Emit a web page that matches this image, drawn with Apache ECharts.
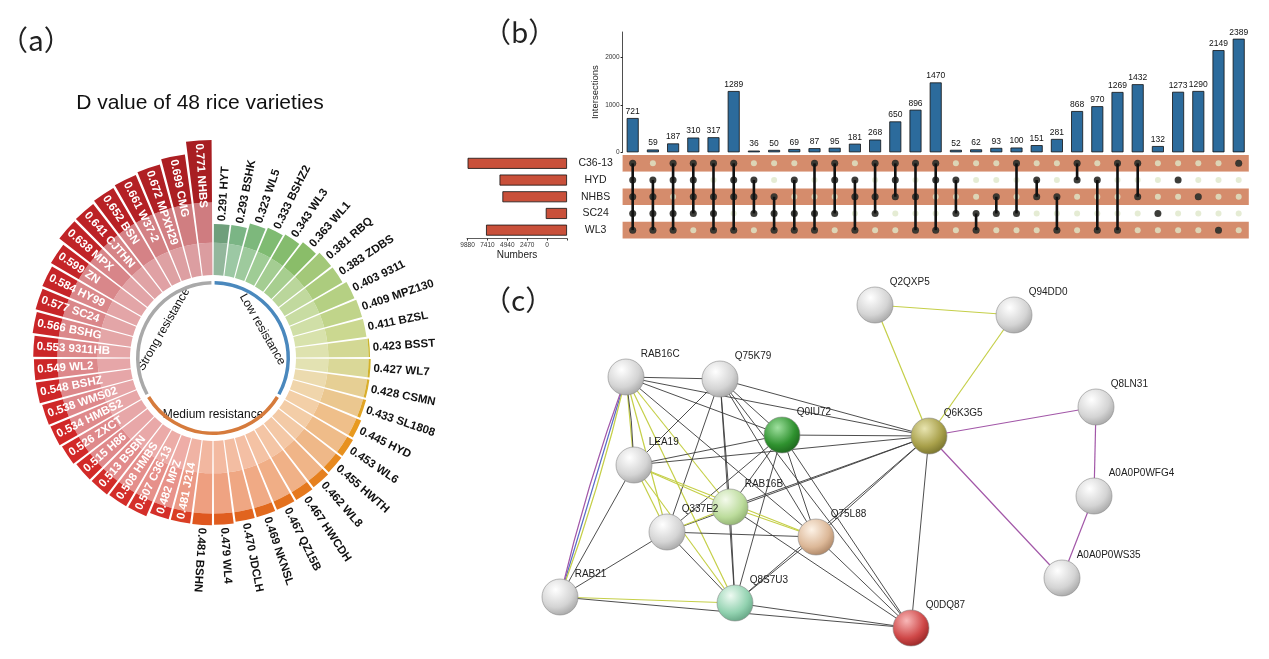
<!DOCTYPE html>
<html><head><meta charset="utf-8">
<script src="https://cdn.jsdelivr.net/npm/echarts@6/dist/echarts.min.js"></script>
<style>html,body{margin:0;padding:0;background:#fff}#c{width:1269px;height:659px}</style>
</head><body><div id="c"></div>
<script>
// ---------- (a) D values ----------
const varieties = ['HYT','BSHK','WL5','BSHZ2','WL3','WL1','RBQ','ZDBS','9311','MPZ130','BZSL','BSST','WL7','CSMN','SL1808','HYD','WL6','HWTH','WL8','HWCDH','QZ15B','NKNSL','JDCLH','WL4','BSHN','J214','MPZ','C36-13','HMBS','BSBN','H86','ZXCT','HMBS2','WMS02','BSHZ','WL2','9311HB','BSHG','SC24','HY99','ZN','MPX','CJTHN','BSN','W37-2','MPXH29','CMG','NHBS'];
const dValues = [0.291,0.293,0.323,0.333,0.343,0.363,0.381,0.383,0.403,0.409,0.411,0.423,0.427,0.428,0.433,0.445,0.453,0.455,0.462,0.467,0.467,0.469,0.470,0.479,0.481,0.481,0.482,0.507,0.508,0.513,0.515,0.526,0.534,0.538,0.548,0.549,0.553,0.566,0.577,0.584,0.599,0.638,0.641,0.652,0.661,0.672,0.699,0.771];
const groupNames = ['Low resistance','Medium resistance','Strong resistance'];
const firstInsideLabel = 25;

// ---------- (b) UpSet ----------
const setNames = ['C36-13','HYD','NHBS','SC24','WL3'];
const setSizes = [12348, 8381, 8024, 2638, 10057];
const setTickLabels = ['9880','7410','4940','2470','0'];
const intersectionTicks = [0, 1000, 2000];
const intersectionCounts = [721,59,187,310,317,1289,36,50,69,87,95,181,268,650,896,1470,52,62,93,100,151,281,868,970,1269,1432,132,1273,1290,2149,2389];
const intersectionSets = [
 ['C36-13','HYD','NHBS','SC24','WL3'],
 ['HYD','NHBS','SC24','WL3'],
 ['C36-13','HYD','SC24','WL3'],
 ['C36-13','HYD','NHBS','SC24'],
 ['C36-13','NHBS','SC24','WL3'],
 ['C36-13','HYD','NHBS','WL3'],
 ['HYD','NHBS','SC24'],
 ['NHBS','SC24','WL3'],
 ['HYD','SC24','WL3'],
 ['C36-13','SC24','WL3'],
 ['C36-13','HYD','SC24'],
 ['HYD','NHBS','WL3'],
 ['C36-13','NHBS','SC24'],
 ['C36-13','HYD','NHBS'],
 ['C36-13','NHBS','WL3'],
 ['C36-13','HYD','WL3'],
 ['HYD','SC24'],
 ['SC24','WL3'],
 ['NHBS','SC24'],
 ['C36-13','SC24'],
 ['HYD','NHBS'],
 ['NHBS','WL3'],
 ['C36-13','HYD'],
 ['HYD','WL3'],
 ['C36-13','WL3'],
 ['C36-13','NHBS'],
 ['SC24'],
 ['HYD'],
 ['NHBS'],
 ['WL3'],
 ['C36-13']
];

// ---------- (c) network ----------
const nodeNames = ['Q2QXP5','Q94DD0','RAB16C','Q75K79','Q0IU72','Q6K3G5','Q8LN31','LEA19','RAB16B','Q337E2','Q75L88','A0A0P0WFG4','A0A0P0WS35','RAB21','Q8S7U3','Q0DQ87'];
const nodeX = [875,1014,626,720,782,929,1096,634,730,667,816,1094,1062,560,735,911];
const nodeY = [305,315,377,379,435,436,407,465,507,532,537,496,578,597,603,628];
const nodeTint = {Q0IU72:'green', Q6K3G5:'olive', RAB16B:'lightgreen', Q75L88:'tan', Q8S7U3:'mint', Q0DQ87:'red'};
const edgeList = [
 ['RAB16C','Q75K79','k'],['RAB16C','Q0IU72','k'],['RAB16C','Q6K3G5','k'],['RAB16C','Q75L88','k'],
 ['RAB16C','RAB16B','y'],['RAB16C','Q337E2','y'],['RAB16C','Q8S7U3','y'],['RAB16C','LEA19','y'],['RAB16C','LEA19','k'],
 ['RAB16C','RAB21','b'],['RAB16C','RAB21','y'],['RAB16C','RAB21','p'],
 ['Q75K79','LEA19','k'],['Q75K79','Q0IU72','k'],['Q75K79','Q6K3G5','k'],['Q75K79','RAB16B','k'],['Q75K79','Q337E2','k'],
 ['Q75K79','Q75L88','k'],['Q75K79','Q8S7U3','k'],['Q75K79','Q0DQ87','k'],
 ['Q0IU72','LEA19','k'],['Q0IU72','Q6K3G5','k'],['Q0IU72','RAB16B','k'],['Q0IU72','Q337E2','k'],['Q0IU72','Q75L88','k'],
 ['Q0IU72','Q8S7U3','k'],['Q0IU72','Q0DQ87','k'],
 ['Q6K3G5','LEA19','k'],['Q6K3G5','RAB16B','k'],['Q6K3G5','Q337E2','k'],['Q6K3G5','Q75L88','k'],['Q6K3G5','Q8S7U3','k'],
 ['Q6K3G5','Q0DQ87','k'],['Q6K3G5','Q2QXP5','y'],['Q6K3G5','Q94DD0','y'],['Q6K3G5','Q8LN31','p'],['Q6K3G5','A0A0P0WS35','p'],
 ['Q8LN31','A0A0P0WFG4','p'],['A0A0P0WFG4','A0A0P0WS35','p'],['Q2QXP5','Q94DD0','y'],
 ['LEA19','RAB16B','y'],['LEA19','Q337E2','y'],['LEA19','Q75L88','y'],['LEA19','Q8S7U3','y'],['LEA19','RAB21','k'],
 ['RAB16B','Q337E2','y'],['RAB16B','Q75L88','y'],['RAB16B','Q8S7U3','k'],['RAB16B','Q0DQ87','k'],
 ['Q337E2','Q75L88','k'],['Q337E2','Q8S7U3','k'],['Q337E2','RAB21','k'],
 ['Q75L88','Q8S7U3','k'],['Q75L88','Q0DQ87','k'],
 ['RAB21','Q8S7U3','y'],['RAB21','Q0DQ87','k'],['Q8S7U3','Q0DQ87','k']
];

// ---------- helpers ----------
function hexToRgb(h){h=h.replace('#','');return [0,2,4].map(k=>parseInt(h.substr(k,2),16));}
function rgbToHex(c){return '#'+c.map(v=>Math.round(v).toString(16).padStart(2,'0')).join('');}
function interp(stops,i){
  if(i<=stops[0][0]) return stops[0][1];
  for(let k=1;k<stops.length;k++){
    if(i<=stops[k][0]){const a=hexToRgb(stops[k-1][1]),b=hexToRgb(stops[k][1]);const t=(i-stops[k-1][0])/(stops[k][0]-stops[k-1][0]);return rgbToHex(a.map((v,j)=>v+(b[j]-v)*t));}
  }
  return stops[stops.length-1][1];
}
function mixWhite(c,t){return rgbToHex(hexToRgb(c).map(v=>v+(255-v)*t));}

const midStops=[[0,'#6f9f7b'],[1,'#7bb585'],[3,'#7fbb72'],[5,'#8abd69'],[6,'#a3c879'],[8,'#b5d083'],[10,'#cbd890'],[12,'#dad898'],[13,'#e6cf94'],[15,'#efbf8a'],[20,'#f0ae86'],[24,'#ee9f80'],[26,'#e8928a'],[30,'#e0898b'],[40,'#d9878a'],[47,'#cf7c80']];
const tipStops=[[11,'#c9b52c'],[13,'#d9ae2a'],[15,'#e89a20'],[18,'#e6801e'],[21,'#e26a1e'],[24,'#df571f'],[25,'#da3e24'],[26,'#d4302a'],[32,'#d12727'],[40,'#c42428'],[47,'#a81e22']];
const zoneCut=[0.185,0.415];

const seg1=dValues.map((v,i)=>({value:Math.min(v,zoneCut[0]),itemStyle:{color:mixWhite(interp(midStops,i),0.25)}}));
const seg2=dValues.map((v,i)=>({value:Math.max(0,Math.min(v,zoneCut[1])-zoneCut[0]),itemStyle:{color:interp(midStops,i)}}));
const seg3=dValues.map((v,i)=>({value:Math.max(0,v-zoneCut[1]),itemStyle:{color:interp(tipStops,i)}}));

const polarCenter=[213,358];

// UpSet derived
const memberRows=intersectionSets.map(s=>s.map(n=>setNames.indexOf(n)));
const allCells=[];for(let c=0;c<intersectionCounts.length;c++)for(let r=0;r<setNames.length;r++)allCells.push([c,r]);
const memberCells=[];memberRows.forEach((rows,c)=>rows.forEach(r=>memberCells.push([c,r])));
const lineData=memberRows.map((rows,c)=>[c,Math.min(...rows),Math.max(...rows)]);
const colCats=intersectionCounts.map((v,i)=>'I'+(i+1));

// network derived
const tintStops={
  white:['#ffffff','#d4d4d4','#9c9c9c'],
  green:['#9fe09f','#2f922f','#195a19'],
  olive:['#e8e4b0','#a8a04a','#6c6826'],
  lightgreen:['#f4faec','#bcdc9c','#86a866'],
  tan:['#fdf2e6','#dcb898','#a07858'],
  mint:['#eefaf2','#92d2b0','#5a9a7a'],
  red:['#f8b8b8','#cf4848','#8a1e1e']
};
const graphNodes=nodeNames.map((n,i)=>{const s=tintStops[nodeTint[n]||'white'];return {name:n,x:nodeX[i],y:nodeY[i],
  itemStyle:{color:{type:'radial',x:0.38,y:0.3,r:0.8,colorStops:[{offset:0,color:s[0]},{offset:0.6,color:s[1]},{offset:1,color:s[2]}]},borderColor:'#8a8a8a',borderWidth:0.6}};});
const edgeColors={k:'#3a3a3a',y:'#c5cf48',p:'#a257a8',b:'#5a6cc8'};
const pairCount={};
const graphLinks=edgeList.map(e=>{const key=e[0]+'|'+e[1];pairCount[key]=(pairCount[key]||0)+1;const n=pairCount[key];
  return {source:e[0],target:e[1],lineStyle:{color:edgeColors[e[2]],width:e[2]==='k'?0.9:1.2,curveness:n===1?0:(n===2?0.03:-0.03),opacity:1}};});
const gx0=Math.min(...nodeX),gx1=Math.max(...nodeX),gy0=Math.min(...nodeY),gy1=Math.max(...nodeY);

const FONT='"Liberation Sans", Arial, sans-serif';

const option={
  animation:false,
  textStyle:{fontFamily:FONT},
  polar:[{center:polarCenter,radius:[83,223]},{center:polarCenter,radius:[73.5,77]}],
  angleAxis:[
    {polarIndex:0,type:'category',data:varieties,startAngle:90,clockwise:true,show:false},
    {polarIndex:1,type:'category',data:groupNames,startAngle:90,clockwise:true,show:false}
  ],
  radiusAxis:[
    {polarIndex:0,type:'value',min:0,max:0.8,show:false},
    {polarIndex:1,type:'value',min:0,max:1,show:false}
  ],
  grid:[
    {left:622.6,top:32,width:626.2,height:120.3,outerBoundsMode:'none'},
    {left:622.6,top:155,width:626.2,height:83.5,outerBoundsMode:'none'},
    {left:467,top:155,width:100,height:83.5,outerBoundsMode:'none'}
  ],
  xAxis:[
    {gridIndex:0,type:'category',data:colCats,show:false},
    {gridIndex:1,type:'category',data:colCats,show:false},
    {gridIndex:2,type:'value',inverse:true,min:0,max:12422,interval:2470,
      axisLine:{show:true,lineStyle:{color:'#333',width:0.8}},axisTick:{show:true,length:2,lineStyle:{color:'#333'}},splitLine:{show:false},
      axisLabel:{fontSize:6.5,color:'#333',margin:3,formatter:v=>{const k=Math.round(v/2470);return k>=1?setTickLabels[setTickLabels.length-k]:'';}},
      name:'Numbers',nameLocation:'middle',nameGap:12,nameTextStyle:{fontSize:10,color:'#222'}}
  ],
  yAxis:[
    {gridIndex:0,type:'value',min:0,max:2530,interval:1000,
      axisLine:{show:true,lineStyle:{color:'#222',width:0.8}},axisTick:{show:true,length:2,lineStyle:{color:'#222'}},splitLine:{show:false},
      axisLabel:{fontSize:6.5,color:'#333',margin:3,showMaxLabel:false,formatter:v=>intersectionTicks.indexOf(v)>=0?String(v):''},
      name:'Intersections',nameLocation:'middle',nameGap:22,nameRotate:90,nameTextStyle:{fontSize:9.5,color:'#222'}},
    {gridIndex:1,type:'category',data:setNames,inverse:true,axisLine:{show:false},axisTick:{show:false},
      axisLabel:{fontSize:10.5,color:'#222',align:'center',margin:27},
      splitArea:{show:true,areaStyle:{color:['#d58c6c','#ffffff']}},splitLine:{show:false}},
    {gridIndex:2,type:'category',data:setNames,inverse:true,show:false}
  ],
  graphic:[
    {type:'text',x:0,y:40,style:{text:'（a）',font:'28px "Noto Sans CJK SC"',fill:'#222',verticalAlign:'middle'}},
    {type:'text',x:483,y:32,style:{text:'（b）',font:'28px "Noto Sans CJK SC"',fill:'#222',verticalAlign:'middle'}},
    {type:'text',x:483,y:300,style:{text:'（c）',font:'28px "Noto Sans CJK SC"',fill:'#222',verticalAlign:'middle'}},
    {type:'text',x:200,y:103,style:{text:'D value of 48 rice varieties',font:'21px '+FONT,fill:'#111',align:'center',verticalAlign:'middle'}}
  ],
  series:[
    {type:'bar',coordinateSystem:'polar',polarIndex:0,stack:'d',data:seg1,barCategoryGap:'10%',silent:true},
    {type:'bar',coordinateSystem:'polar',polarIndex:0,stack:'d',data:seg2,barCategoryGap:'10%',silent:true},
    {type:'bar',coordinateSystem:'polar',polarIndex:0,stack:'d',data:seg3,barCategoryGap:'10%',silent:true},
    {type:'custom',coordinateSystem:'polar',polarIndex:0,silent:true,z:5,
      data:dValues.map((v,i)=>[v,i]),
      renderItem:(params,api)=>{
        const v=api.value(0),i=api.value(1),cs=params.coordSys;
        const p=api.coord([v,i]);
        const a=Math.atan2(p[1]-cs.cy,p[0]-cs.cx);
        const inside=i>=firstInsideLabel;
        const r=Math.hypot(p[0]-cs.cx,p[1]-cs.cy)+(inside?-3:3);
        return {type:'text',x:cs.cx+r*Math.cos(a),y:cs.cy+r*Math.sin(a),rotation:inside?Math.PI-a:-a,
          style:{text:v.toFixed(3)+' '+varieties[i],font:'bold 11.5px '+FONT,fill:inside?'#ffffff':'#111111',align:'left',verticalAlign:'middle'}};
      }},
    {type:'bar',coordinateSystem:'polar',polarIndex:1,data:[
        {value:1,itemStyle:{color:'#4a88bd'}},{value:1,itemStyle:{color:'#d67b3c'}},{value:1,itemStyle:{color:'#a9a9a9'}}],
      barCategoryGap:'2%',silent:true},
    {type:'custom',coordinateSystem:'polar',polarIndex:1,silent:true,
      data:groupNames.map((g,i)=>[1,i]),
      renderItem:(params,api)=>{
        const i=api.value(1),cs=params.coordSys;
        const p=api.coord([1,i]);
        const a=Math.atan2(p[1]-cs.cy,p[0]-cs.cx);
        const r=57;
        const rot=(i===1)?-(a-Math.PI/2):-(a+Math.PI/2);
        return {type:'text',x:cs.cx+r*Math.cos(a),y:cs.cy+r*Math.sin(a),rotation:rot,
          style:{text:groupNames[i],font:'12px '+FONT,fill:'#111',align:'center',verticalAlign:'middle'}};
      }},
    // UpSet
    {type:'bar',xAxisIndex:0,yAxisIndex:0,data:intersectionCounts,barWidth:12,silent:true,
      itemStyle:{color:'#2c6b9c',borderColor:'#111',borderWidth:0.8},
      label:{show:true,position:'top',distance:2,fontSize:8.5,color:'#111'}},
    {type:'scatter',xAxisIndex:1,yAxisIndex:1,data:allCells,symbolSize:6,silent:true,itemStyle:{color:'#dfe7c9'},z:2},
    {type:'custom',xAxisIndex:1,yAxisIndex:1,data:lineData,silent:true,z:3,encode:{x:0,y:[1,2]},
      renderItem:(params,api)=>{
        const p1=api.coord([api.value(0),api.value(1)]),p2=api.coord([api.value(0),api.value(2)]);
        return {type:'line',shape:{x1:p1[0],y1:p1[1],x2:p2[0],y2:p2[1]},style:{stroke:'#111',lineWidth:2.6}};
      }},
    {type:'scatter',xAxisIndex:1,yAxisIndex:1,data:memberCells,symbolSize:7,silent:true,itemStyle:{color:'#111'},z:4},
    {type:'bar',xAxisIndex:2,yAxisIndex:2,data:setSizes,barWidth:11,silent:true,
      itemStyle:{color:'#c9503a',borderColor:'#111',borderWidth:0.8}},
    // network
    {type:'graph',layout:'none',left:gx0,top:gy0,width:gx1-gx0,height:gy1-gy0,roam:false,silent:true,
      symbol:'circle',symbolSize:36,data:graphNodes,links:graphLinks,z:3,
      label:{show:true,position:[33,-4],align:'left',verticalAlign:'middle',fontSize:10,color:'#222'},
      emphasis:{disabled:true}}
  ]
};
const chart=echarts.init(document.getElementById('c'),null,{renderer:'canvas'});
chart.setOption(option);
</script></body></html>
